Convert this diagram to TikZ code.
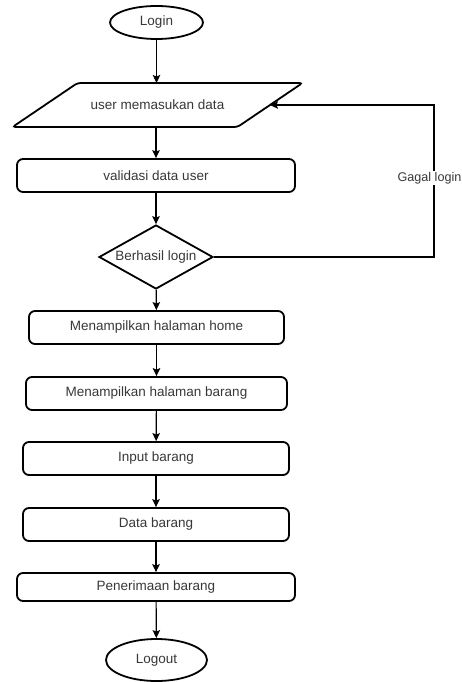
\documentclass[tikz,border=0pt]{standalone}
\usepackage{fontspec}
\setmainfont{Liberation Sans}
\usetikzlibrary{shapes.geometric,arrows.meta,calc}
\definecolor{txt}{HTML}{383838}
\tikzset{
  lbl/.style={text=txt, font=\fontsize{13.5}{16}\selectfont},
  outline/.style={draw, line width=1.8pt},
  box/.style={lbl, outline, rounded corners=6pt, inner sep=0pt, minimum height=33pt},
  term/.style={lbl, outline, ellipse, inner sep=0pt},
  decide/.style={lbl, outline, diamond, inner sep=0pt, shape aspect=1.78,
                 minimum width=114pt, minimum height=64pt},
  flow/.style={line width=1.2pt, -{Stealth[length=8pt,width=7.5pt,inset=1.5pt]}},
}
\begin{document}
\begin{tikzpicture}[x=1pt,y=-1pt]
  % page frame
  \fill[white] (0,0) rectangle (462,682);
  \useasboundingbox (0,0) rectangle (462,682);

  % terminals, steps and decision
  \node[term, minimum width=93pt, minimum height=33pt] (login) at (156.5,22.5) {Login};
  \node[lbl, inner sep=0pt, minimum width=220pt, minimum height=44pt] (inp) at (157.5,105) {user memasukan data};
  \node[box, minimum width=278pt] (valid) at (156,175.5) {validasi data user};
  \node[decide] (dec) at (156,257) {Berhasil login};
  \node[box, minimum width=255pt] (home) at (156.5,327.5) {Menampilkan halaman home};
  \node[box, minimum width=261pt] (brg) at (156.5,393.5) {Menampilkan halaman barang};
  \node[box, minimum width=266pt] (input) at (156,458.5) {Input barang};
  \node[box, minimum width=266pt] (data) at (156,524.5) {Data barang};
  \node[box, minimum width=278pt, minimum height=28pt] (terima) at (156,587) {Penerimaan barang};
  \node[term, minimum width=101pt, minimum height=42pt] (logout) at (156.5,660) {Logout};

  % input/output parallelogram around the data-entry step
  \coordinate (pTL) at ($(inp)+(-80,-22)$);
  \coordinate (pTR) at ($(inp)+(145,-22)$);
  \coordinate (pBR) at ($(inp)+(80,22)$);
  \coordinate (pBL) at ($(inp)+(-145,22)$);
  \draw[outline, rounded corners=3pt] (pTL) -- (pTR) -- (pBR) -- (pBL) -- cycle;
  \coordinate (inR) at ($(pTR)!0.5!(pBR)$);
  \coordinate (rail) at (434,105);

  % main flow
  \draw[flow] (login) -- (login |- pTL);
  \draw[flow] (valid |- pBL) -- (valid);
  \draw[flow] (valid) -- (dec);
  \draw[flow] (dec) -- (home);
  \draw[flow] (home) -- (brg);
  \draw[flow] (brg) -- (input);
  \draw[flow] (input) -- (data);
  \draw[flow] (data) -- (terima);
  \draw[flow] (terima) -- (logout);

  % failed login loops back to data entry
  \draw[flow] (dec.east) -| (rail) -- (inR);
  \node[lbl, font=\fontsize{12.6}{15}\selectfont, fill=white, inner sep=1pt] (gagal) at (429.5,178) {Gagal login};
\end{tikzpicture}
\end{document}
